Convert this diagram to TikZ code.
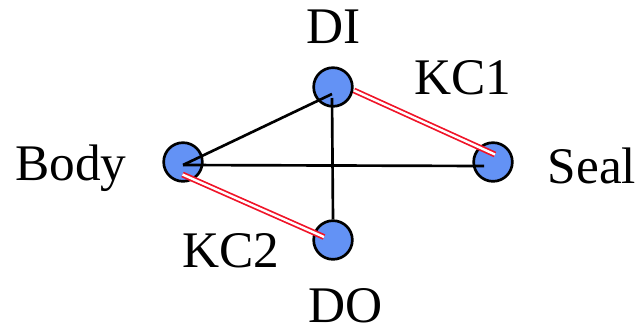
\documentclass[tikz,border=0pt]{standalone}
\usepackage{fontspec}
\setmainfont{Liberation Serif}
\usepackage{xcolor}
\usepackage{tikz}
\definecolor{dotblue}{RGB}{99,146,245}
\definecolor{kcred}{RGB}{240,20,40}

\begin{document}
\begin{tikzpicture}[
  x=0.75pt, y=-0.75pt,
  dot/.style={draw, circle, line width=2pt, fill=dotblue,
              minimum size=29pt, inner sep=0pt},
  lbl/.style={anchor=base, inner sep=0pt,
              font=\fontsize{38.5}{40}\selectfont},
  link/.style={line width=2pt, black},
  kc/.style={draw=kcred, double=white, line width=1.3pt,
             double distance=1.8pt}
]
  \useasboundingbox (0,0) rectangle (642,333);
  \node[dot] (body) at (183,162) {};
  \node[dot] (di)   at (333,87)  {};
  \node[dot] (seal) at (493,162) {};
  \node[dot] (do)   at (333,240) {};
  \node[lbl] (lbody) at (71,180)  {Body};
  \node[lbl] (lseal) at (592,183) {Seal};
  \node[lbl] (ldi)   at (334,43)  {DI};
  \node[lbl] (ldo)   at (346,322) {DO};
  \node[lbl] (lkc1)  at (463,94)  {KC1};
  \node[lbl] (lkc2)  at (231,267) {KC2};
  \draw[link] ([shift={(-1,7)}]di.center)  -- ([shift={(0,3)}]body.center);
  \draw[link] ([shift={(-1,11)}]di.center) -- (do.north);
  \draw[link] ([shift={(0,3)}]body.center) -- ([shift={(-9,4)}]seal.center);
  \draw[kc] ([shift={(21,3.5)}]di.center)     -- ([shift={(2,-7.5)}]seal.center);
  \draw[kc] ([shift={(-0.5,12.5)}]body.center) -- ([shift={(-9,-3)}]do.center);
\end{tikzpicture}
\end{document}
